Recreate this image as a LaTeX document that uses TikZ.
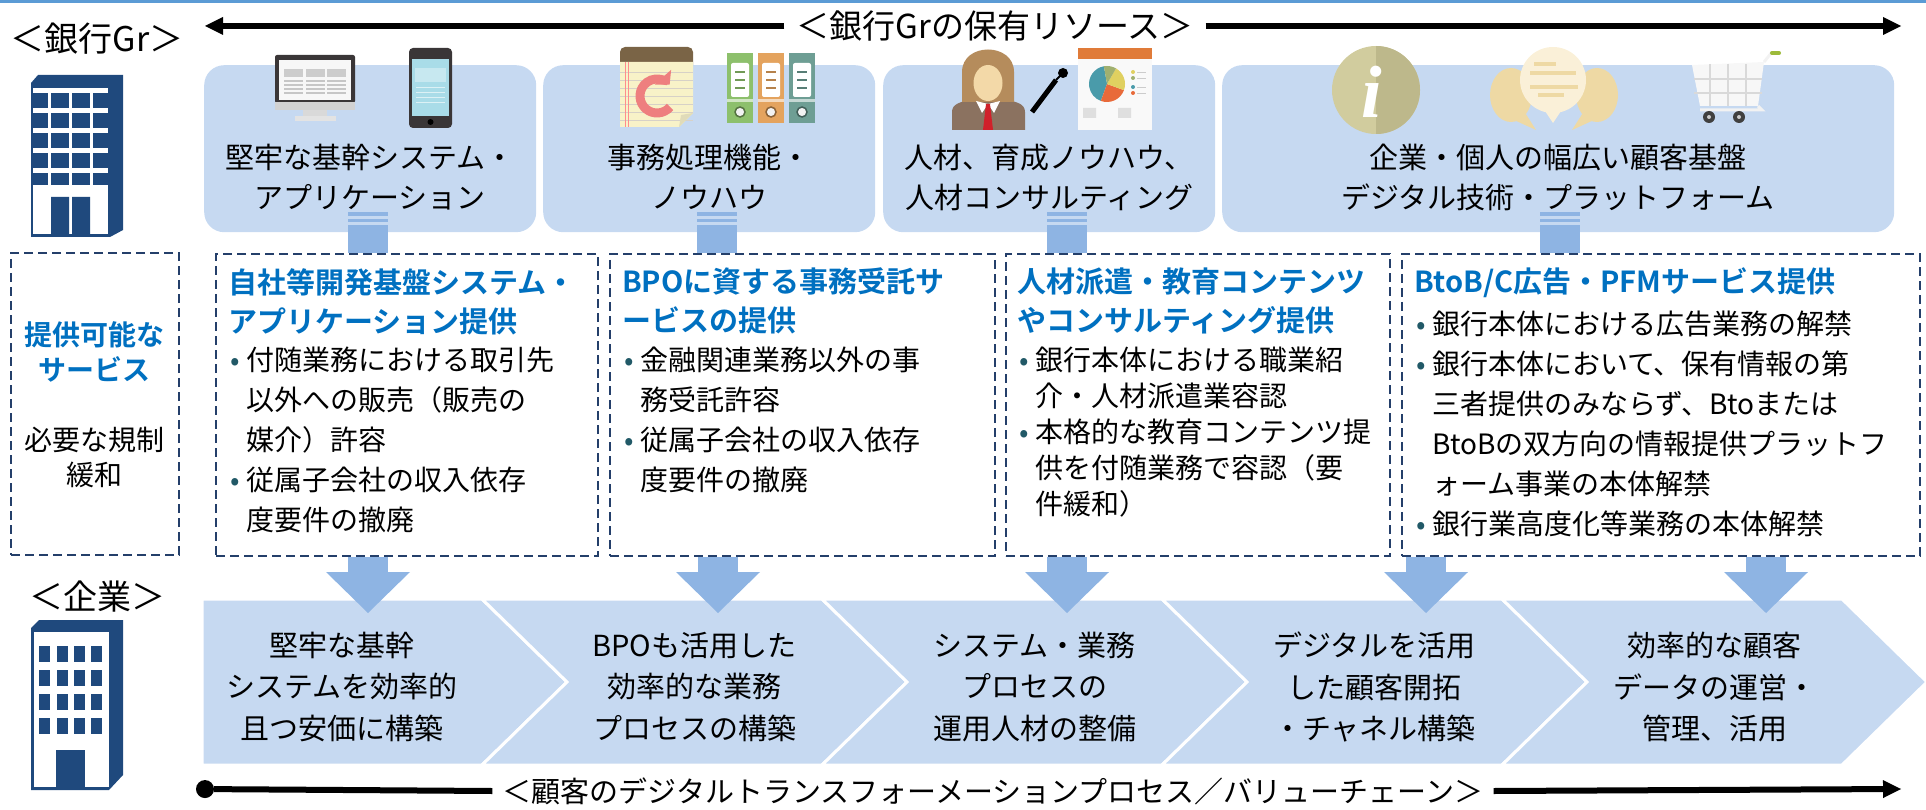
\documentclass[tikz,border=0pt]{standalone}
\usepackage{fontspec}
\setmainfont{Noto Sans CJK JP}[BoldFont={Noto Sans CJK JP Bold}]
\newfontfamily\serifi{Liberation Serif}
\usepackage{xcolor}
\definecolor{cBox}{HTML}{C6D9F1}
\definecolor{cArrow}{HTML}{8EB4E3}
\definecolor{cDash}{HTML}{243F6A}
\definecolor{cTitle}{HTML}{0070C0}
\definecolor{cDot}{HTML}{215967}
\definecolor{cBldg}{HTML}{1F497D}
\definecolor{cTop}{HTML}{5B9BD5}
\definecolor{cDark}{HTML}{3A3637}
\definecolor{cScreen}{HTML}{A9DCE8}
\definecolor{cPadTop}{HTML}{7A6446}
\definecolor{cPaper}{HTML}{F8F2C8}
\definecolor{cRefresh}{HTML}{EE7F7F}
\definecolor{cBindG}{HTML}{8DC06C}
\definecolor{cBindO}{HTML}{E4A35E}
\definecolor{cBindT}{HTML}{6E9E94}
\definecolor{cHair}{HTML}{B58C5C}
\definecolor{cSkin}{HTML}{F3D9A8}
\definecolor{cSuit}{HTML}{8B7260}
\definecolor{cTie}{HTML}{D0202A}
\definecolor{cOrange}{HTML}{E07B39}
\definecolor{cPieT}{HTML}{4A9BAA}
\definecolor{cPieY}{HTML}{E0D060}
\definecolor{cPieG}{HTML}{A0B070}
\definecolor{cPieO}{HTML}{E86A3A}
\definecolor{cInfoL}{HTML}{D1CC9E}
\definecolor{cInfoR}{HTML}{BDB88B}
\definecolor{cBubble}{HTML}{EED9A4}
\definecolor{cBubbleC}{HTML}{FAF0D8}
\definecolor{cCartG}{HTML}{9DBB3A}
\usepackage{tikz}
\usetikzlibrary{positioning,arrows.meta}
\tikzset{
  res-box/.style={fill=cBox,rounded corners=20pt,minimum height=167pt,
    inner sep=0pt,anchor=north west},
  res-text/.style={align=center,inner sep=0pt,font=\fontsize{29}{40}\selectfont},
  svc-box/.style={draw=cDash,line width=2pt,dash pattern=on 9pt off 5pt,
    minimum height=302pt,inner sep=0pt,anchor=north west},
  svc-title/.style={align=left,inner sep=0pt,text=cTitle,
    font=\fontsize{29}{39}\selectfont\bfseries},
  svc-list/.style={align=left,inner sep=0pt,font=\fontsize{28}{40}\selectfont},
  svc-note/.style={align=center,inner sep=0pt,font=\fontsize{28}{35}\selectfont},
  step-shape/.style={fill=cBox,draw=white,line width=3pt},
  step-text/.style={align=center,inner sep=0pt,font=\fontsize{29}{41.5}\selectfont},
  side-label/.style={inner sep=0pt,font=\fontsize{34}{34}\selectfont},
  axis-label/.style={inner xsep=12pt,inner ysep=0pt,font=\fontsize{33}{33}\selectfont},
  axis-arrow/.style={line width=6pt,-{Triangle[length=18pt,width=18pt,line width=0pt]}},
  axis-dot/.style={line width=6pt,-{Circle[length=18pt,line width=0pt]}},
  conn-bar/.style={draw=cArrow,line width=40pt},
  flow-arrow/.style={draw=cArrow,line width=40pt,
    -{Triangle[length=41pt,width=84pt,line width=0pt]}},
}
% 箇条書きの行頭と字下げ
\newcommand\itm{\makebox[18pt][l]{\hspace{2pt}\textcolor{cDot}{•}}}
\newcommand\ind{\makebox[18pt]{}}

\begin{document}
\begin{tikzpicture}[x=1pt,y=-1pt]
  \useasboundingbox (0,0) rectangle (1926,810);
  \fill[cTop] (0,0) rectangle (1926,3);

  % 銀行Gr
  \node[side-label] (bankLbl) at (97,39) {＜銀行Gr＞};
  \fill[cBldg] (31,83) -- (38,75) -- (123,75) -- (123,230) -- (110,237) -- (31,237) -- cycle;
  \foreach \y in {88,108,128,148,168} \fill[white] (33,\y) rectangle (108,\y+5.5);
  \foreach \x in {48,69,90} \fill[white] (\x,88) rectangle (\x+3,185);
  \fill[white] (33,185) rectangle (108,234);
  \fill[cBldg] (51,197) rectangle (69,234) (72,197) rectangle (90,234);

  % 保有リソース
  \node[res-box,minimum width=332pt] (res1) at (204,65) {};
  \node[res-box,minimum width=332pt] (res2) at (543,65) {};
  \node[res-box,minimum width=332pt] (res3) at (883,65) {};
  \node[res-box,minimum width=672pt] (res4) at (1222,65) {};

  % monitor + phone
  \fill[cDark,rounded corners=2pt] (275,55) rectangle (355,103);
  \fill[gray!6] (279,60) rectangle (351,100);
  \foreach \x in {284,306,327} {
    \fill[gray!40] (\x,69) rectangle (\x+19,77);
    \foreach \y in {81,85,89,93} \draw[gray!45,line width=1.2pt] (\x,\y) -- (\x+19,\y);
  }
  \fill[gray!35] (275,102) rectangle (355,110);
  \fill[gray!30] (303,110) rectangle (327,117);
  \fill[gray!22] (295,116) rectangle (336,121);
  \fill[cDark,rounded corners=4pt] (409,48) rectangle (452,128);
  \fill[cScreen] (412,59) rectangle (449,116);
  \fill[white,opacity=.35] (415,68) rectangle (446,82);
  \foreach \y in {88,93,98,103} \draw[white,opacity=.6,line width=1pt] (416,\y) -- (445,\y);
  \fill[black] (430.5,122) circle (3pt);

  % notepad + binders
  \fill[cPadTop,rounded corners=5pt] (620,47) rectangle (693,70);
  \fill[cPaper] (620,62) -- (693,62) -- (693,113) -- (679,127) -- (620,127) -- cycle;
  \foreach \y in {72,80,...,120} \draw[cPadTop!30,line width=.8pt] (620,\y) -- (693,\y);
  \draw[red!45,line width=1pt] (625,62) -- (625,127) (628,62) -- (628,127);
  \fill[cPaper!80!gray] (693,113) -- (681,115) -- (679,127) -- cycle;
  \draw[cRefresh,line width=9pt,-{Triangle[length=10pt,width=22pt,line width=0pt]}]
    ([shift={(-40:17pt)}]657,96) arc[start angle=-40,end angle=-318,radius=17pt];
  \foreach \x/\c in {727/cBindG,758/cBindO,789/cBindT} {
    \fill[\c] (\x,53) rectangle (\x+26,123);
    \fill[white,rounded corners=2pt] (\x+4,63) rectangle (\x+22,97);
    \foreach \y in {72,80,88} \draw[\c!80!black,line width=1.5pt] (\x+8,\y) -- (\x+18,\y);
    \fill[white!60!\c] (\x,99) rectangle (\x+26,102);
    \draw[\c!60!black,fill=gray!10,line width=1.5pt] (\x+13,112) circle (5pt);
  }

  % person + board
  \fill[cSuit] (952,130) -- (952,112) .. controls (952,104) and (960,102) .. (970,100)
    -- (1007,100) .. controls (1017,102) and (1025,104) .. (1025,112) -- (1025,130) -- cycle;
  \fill[cHair] (962,102) -- (962,72) .. controls (962,42) and (1014,42) .. (1014,72) -- (1014,102) -- cycle;
  \fill[cSkin] (988,83) ellipse (14.5pt and 18pt);
  \fill[cHair] (971,78) .. controls (972,60) and (996,56) .. (1006,72) -- (1006,62)
    .. controls (996,50) and (975,52) .. (971,66) -- cycle;
  \fill[white] (976,101) -- (988,104) -- (982,113) -- cycle;
  \fill[white] (1000,101) -- (988,104) -- (994,113) -- cycle;
  \fill[cTie] (986,104) -- (990,104) -- (993,130) -- (983,130) -- cycle;
  \draw[line width=5pt] (1032,112) -- (1056,80);
  \draw[line width=2pt] (1056,80) -- (1063,73);
  \fill (1063,73) circle (5pt);
  \fill[gray!5] (1078,48) rectangle (1152,130);
  \fill[cOrange] (1078,48) rectangle (1152,59);
  \foreach \a/\b/\c in {100/250/cPieT,250/340/cPieO,-20/60/cPieY,60/100/cPieG}
    \fill[\c] (1107,84) -- ++(\a:18pt) arc[start angle=\a,end angle=\b,radius=18pt] -- cycle;
  \foreach \y/\c in {72/cPieY,78/cPieG,87/cPieT,93/cPieO} {
    \fill[\c] (1133,\y) circle (2pt);
    \draw[gray!40,line width=.8pt] (1137,\y) -- (1146,\y);
  }
  \fill[gray!25] (1083,108) rectangle (1096,118) (1118,108) rectangle (1131,118);

  % info + bubbles + cart
  \fill[cInfoL] (1376,90) circle (44pt);
  \fill[cInfoR] (1376,46) arc[start angle=90,end angle=-90,radius=44pt] -- cycle;
  \node[text=white,inner sep=0pt,font=\fontsize{74}{74}\selectfont\serifi\bfseries\itshape]
    at (1372,92) {i};
  \fill[cBubble] (1511,95) ellipse (21pt and 27pt);
  \fill[cBubble] (1503,115) -- (1536,130) -- (1522,108) -- cycle;
  \fill[cBubble] (1597,95) ellipse (21pt and 27pt);
  \fill[cBubble] (1605,115) -- (1572,130) -- (1586,108) -- cycle;
  \fill[cBubbleC] (1553,80) ellipse (33pt and 33pt);
  \fill[cBubbleC] (1543,108) -- (1553,123) -- (1563,108) -- cycle;
  \foreach \y/\a/\b in {64/1534/1556,73/1530/1576,87/1530/1578,95/1538/1564}
    \draw[cBubble,line width=4pt] (\a,\y) -- (\b,\y);
  \fill[gray!6] (1692,65) -- (1764,62) -- (1758,106) -- (1700,106) -- cycle;
  \foreach \x in {1710,1728,1746} \draw[gray!30,line width=2pt] (\x,64) -- (\x,106);
  \foreach \y in {79,93} \draw[gray!30,line width=2pt] (1694,\y) -- (1762,\y);
  \draw[gray!10,line width=3pt] (1764,62) -- (1772,52);
  \draw[cCartG,line width=4pt,line cap=round] (1772,53) -- (1779,53);
  \draw[gray!10,line width=3pt] (1758,106) -- (1762,110) -- (1700,110);
  \foreach \x in {1709,1739} {
    \fill[black!75] (\x,117) circle (6pt);
    \fill[gray!40] (\x,117) circle (2pt);
  }

  \node[res-text] (lbl1) at ([yshift=-28.5pt]res1.center) {堅牢な基幹システム・\\アプリケーション};
  \node[res-text] (lbl2) at ([yshift=-28.5pt]res2.center) {事務処理機能・\\ノウハウ};
  \node[res-text] (lbl3) at ([yshift=-28.5pt]res3.center) {人材、育成ノウハウ、\\人材コンサルティング};
  \node[res-text] (lbl4) at ([yshift=-28.5pt]res4.center) {企業・個人の幅広い顧客基盤\\デジタル技術・プラットフォーム};

  % 提供可能なサービス／必要な規制緩和
  \node[svc-box,minimum width=168pt] (svcL) at (10,252) {};
  \node[svc-box,minimum width=382pt] (svcA) at (215,253) {};
  \node[svc-box,minimum width=385pt] (svcB) at (609,253) {};
  \node[svc-box,minimum width=384pt] (svcC) at (1005,253) {};
  \node[svc-box,minimum width=518pt] (svcD) at (1401,253) {};

  \foreach \r/\s/\dx in {res1/svcA/-2,res2/svcB/8,res3/svcC/18,res4/svcD/2} {
    \draw[conn-bar] ([xshift=\dx pt,yshift=7pt]\r.south) -- ([xshift=\dx pt]\r.south |- \s.north);
    \foreach \h/\w in {11.5/3,18/4}
      \draw[conn-bar,line width=\w pt] ([xshift={(\dx-20)*1pt},yshift=\h pt]\r.south)
        -- ([xshift={(\dx+20)*1pt},yshift=\h pt]\r.south);
  }

  \node[svc-note,text=cTitle,font=\fontsize{28}{35}\selectfont\bfseries] (noteSvc) at (94,351.5) {提供可能な\\サービス};
  \node[svc-note] (noteReg) at (94,457.5) {必要な規制\\緩和};

  \node[svc-title,below right=15pt and 13pt of svcA.north west] (ttlA) {自社等開発基盤システム・\\アプリケーション提供};
  \node[svc-list,below=12pt of ttlA.south west,anchor=north west] (lstA)
    {\itm 付随業務における取引先\\\ind 以外への販売（販売の\\\ind 媒介）許容\\\itm 従属子会社の収入依存\\\ind 度要件の撤廃};
  \node[svc-title,below right=15pt and 13pt of svcB.north west] (ttlB) {BPOに資する事務受託サ\\ービスの提供};
  \node[svc-list,below=12pt of ttlB.south west,anchor=north west] (lstB)
    {\itm 金融関連業務以外の事\\\ind 務受託許容\\\itm 従属子会社の収入依存\\\ind 度要件の撤廃};
  \node[svc-title,below right=15pt and 12pt of svcC.north west] (ttlC) {人材派遣・教育コンテンツ\\やコンサルティング提供};
  \node[svc-list,font=\fontsize{28}{36}\selectfont,below=12pt of ttlC.south west,anchor=north west] (lstC)
    {\itm 銀行本体における職業紹\\\ind 介・人材派遣業容認\\\itm 本格的な教育コンテンツ提\\\ind 供を付随業務で容認（要\\\ind 件緩和）};
  \node[svc-title,below right=15pt and 13pt of svcD.north west] (ttlD) {BtoB/C広告・PFMサービス提供};
  \node[svc-list,below=12pt of ttlD.south west,anchor=north west] (lstD)
    {\itm 銀行本体における広告業務の解禁\\\itm 銀行本体において、保有情報の第\\\ind 三者提供のみならず、Btoまたは\\\ind BtoBの双方向の情報提供プラットフ\\\ind ォーム事業の本体解禁\\\itm 銀行業高度化等業務の本体解禁};

  % 企業
  \node[side-label] (corpLbl) at (97,597) {＜企業＞};
  \fill[cBldg] (31,628) -- (39,620) -- (123,620) -- (123,775) -- (109,790) -- (31,790) -- cycle;
  \fill[white] (34,632) rectangle (109,787);
  \foreach \x in {39,57,74,91} \foreach \y in {646,670,694,718}
    \fill[cBldg] (\x,\y) rectangle (\x+11,\y+16);
  \fill[cBldg] (56,750) rectangle (85,787);

  % バリューチェーン
  \filldraw[step-shape] (202,599) -- (482,599) -- (567,682) -- (482,765) -- (202,765) -- cycle;
  \foreach \l in {482,822,1162,1502}
    \filldraw[step-shape] (\l,599) -- (\l+340,599) -- (\l+425,682) -- (\l+340,765)
      -- (\l,765) -- (\l+85,682) -- cycle;
  \node[step-text] (step1) at (342,687) {堅牢な基幹\\システムを効率的\\且つ安価に構築};
  \node[step-text] (step2) at (694.5,687) {BPOも活用した\\効率的な業務\\プロセスの構築};
  \node[step-text] (step3) at (1034.5,687) {システム・業務\\プロセスの\\運用人材の整備};
  \node[step-text] (step4) at (1374.5,687) {デジタルを活用\\した顧客開拓\\・チャネル構築};
  \node[step-text] (step5) at (1714.5,687) {効率的な顧客\\データの運営・\\管理、活用};

  \coordinate (flowtip) at (0,613);
  \foreach \x/\s in {368/svcA,718/svcB,1067/svcC,1426/svcD,1766/svcD}
    \draw[flow-arrow] (\x,0 |- \s.south) -- (\x,0 |- flowtip);

  % 上下の軸
  \node[axis-label] (resLbl) at (995,26) {＜銀行Grの保有リソース＞};
  \coordinate (resL) at (205,26);
  \coordinate (resR) at (1901,26);
  \draw[axis-arrow] (resLbl.west) -- (resL);
  \draw[axis-arrow] (resLbl.east) -- (resR);
  \node[axis-label,inner xsep=10pt,font=\fontsize{29}{29}\selectfont] (dxLbl) at (993,791)
    {＜顧客のデジタルトランスフォーメーションプロセス／バリューチェーン＞};
  \coordinate (dxL) at (196,789);
  \coordinate (dxR) at (1901,789);
  \draw[axis-dot] (dxLbl.west) -- (dxL);
  \draw[axis-arrow] (dxLbl.east) -- (dxR);
\end{tikzpicture}
\end{document}
